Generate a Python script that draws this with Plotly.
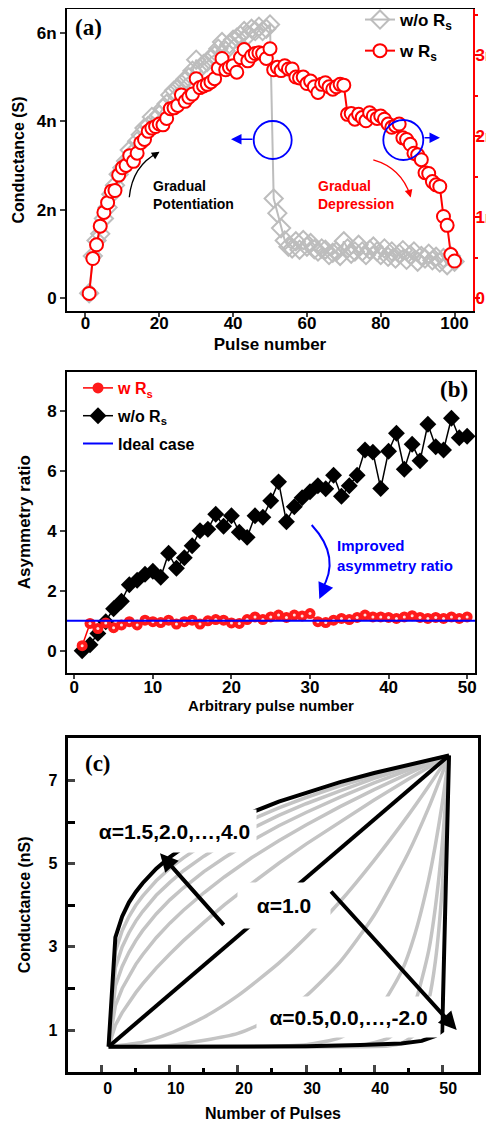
import plotly.graph_objects as go

# page body adds an 8px margin: the figure is drawn 8px in from the top-left
OFF = 8
FW, FH = 494 - OFF, 1130 - OFF
FONT = "Liberation Sans, Arial, sans-serif"
SERIF = "Liberation Serif, Times New Roman, serif"


def PX(x):
    return (x - OFF) / FW


def PYu(y):
    return 1 - (y - OFF) / FH


def PY(y):
    return min(1.0, PYu(y))


# ---------------- panel (a) data (conductance in nS) ----------------
pulse_a = list(range(1, 101))
g_wo_rs_nS = [0.10, 0.95, 1.30, 1.45, 1.80, 2.05, 2.35, 2.55, 2.80, 2.95,
              3.10, 3.35, 3.30, 3.55, 3.70, 3.85, 3.90, 4.10, 4.05, 4.15,
              4.30, 4.40, 4.60, 4.70, 4.75, 4.85, 4.95, 5.00, 5.15, 5.40,
              5.20, 5.30, 5.35, 5.45, 5.50, 5.65, 5.80, 5.60, 5.75, 5.85,
              5.90, 5.95, 6.05, 5.95, 6.10, 6.05, 6.15, 6.05, 6.10, 6.20,
              2.25, 1.92, 1.58, 1.30, 1.16, 1.12, 1.28, 1.09, 1.31, 1.16,
              1.24, 1.10, 1.05, 1.12, 1.09, 0.97, 1.02, 1.05, 0.95, 1.28,
              1.12, 1.00, 1.05, 1.20, 1.05, 0.97, 1.09, 1.16, 1.05, 0.97,
              1.12, 0.93, 1.05, 0.89, 1.00, 1.08, 0.86, 0.97, 1.05, 0.82,
              0.95, 0.89, 1.00, 0.85, 0.93, 0.80, 0.90, 0.74, 0.95, 0.82]
g_w_rs_nS = [0.06, 0.49, 0.66, 0.89, 1.06, 1.18, 1.32, 1.33, 1.52, 1.61,
             1.64, 1.76, 1.69, 1.79, 1.92, 1.96, 2.06, 2.10, 2.12, 2.15,
             2.14, 2.22, 2.34, 2.35, 2.38, 2.51, 2.43, 2.48, 2.52, 2.71,
             2.60, 2.62, 2.64, 2.67, 2.71, 2.84, 2.96, 2.82, 2.85, 2.87,
             2.79, 2.97, 3.07, 2.93, 2.99, 3.02, 3.03, 3.02, 2.96, 3.08,
             2.82, 2.85, 2.81, 2.87, 2.83, 2.83, 2.73, 2.72, 2.73, 2.65,
             2.68, 2.61, 2.54, 2.64, 2.66, 2.61, 2.58, 2.61, 2.64, 2.63,
             2.27, 2.28, 2.21, 2.27, 2.23, 2.19, 2.29, 2.25, 2.22, 2.25,
             2.21, 2.15, 2.11, 2.13, 2.15, 1.98, 1.96, 1.90, 1.79, 1.77,
             1.71, 1.55, 1.54, 1.44, 1.40, 1.38, 1.01, 0.90, 0.54, 0.46]
a_xticks = [0, 20, 40, 60, 80, 100]
a_left_ticks_nS = [0, 2, 4, 6]
a_right_ticks_nS = [0, 1, 2, 3]

# ---------------- panel (b) data ----------------
pulse_b = list(range(1, 51))
ratio_wo_rs = [0.00, 0.20, 0.58, 0.97, 1.40, 1.65, 2.20, 2.35, 2.55, 2.65,
               2.45, 3.25, 2.75, 3.10, 3.50, 4.00, 4.05, 4.55, 4.15, 4.50,
               3.95, 3.78, 4.50, 4.45, 5.00, 5.63, 4.30, 4.80, 5.10, 5.30,
               5.50, 5.40, 5.85, 5.15, 5.50, 5.85, 6.69, 6.62, 5.41, 6.65,
               7.25, 6.05, 6.88, 6.33, 7.55, 6.80, 6.69, 7.75, 7.10, 7.15]
ratio_w_rs = [0.17, 0.91, 0.74, 0.93, 0.77, 0.86, 0.97, 0.86, 1.02, 0.97,
              0.94, 1.02, 0.89, 0.97, 1.02, 0.89, 1.00, 1.04, 1.02, 0.93,
              0.91, 1.04, 1.13, 1.04, 1.13, 1.19, 1.11, 1.19, 1.16, 1.24,
              0.97, 0.94, 1.02, 1.08, 1.04, 1.11, 1.19, 1.13, 1.13, 1.11,
              1.08, 1.13, 1.17, 1.11, 1.08, 1.11, 1.08, 1.13, 1.08, 1.13]
ideal_ratio = 1.0
b_xrange = [-0.93, 51]
b_xticks = [0, 10, 20, 30, 40, 50]
b_yticks = [0, 2, 4, 6, 8]

# ---------------- panel (c) data (conductance in nS) ----------------
upper_x = [1, 2, 3, 4, 5, 6, 8, 10, 12, 15, 18, 22, 26, 30, 35, 40, 45, 48, 50, 51]
alpha_upper = {
    "1.5": [0.6, 1.12, 1.42, 1.67, 1.90, 2.11, 2.49, 2.83, 3.15, 3.59, 4.01, 4.52, 5.01, 5.47, 6.01, 6.53, 7.03, 7.32, 7.51, 7.6],
    "2.0": [0.6, 1.59, 2.00, 2.31, 2.58, 2.81, 3.22, 3.57, 3.88, 4.30, 4.68, 5.14, 5.55, 5.93, 6.37, 6.78, 7.17, 7.39, 7.53, 7.6],
    "2.5": [0.6, 2.06, 2.53, 2.87, 3.15, 3.39, 3.79, 4.13, 4.42, 4.81, 5.14, 5.55, 5.91, 6.23, 6.60, 6.94, 7.25, 7.43, 7.54, 7.6],
    "3.0": [0.6, 2.50, 3.00, 3.34, 3.62, 3.85, 4.24, 4.55, 4.83, 5.18, 5.49, 5.84, 6.16, 6.44, 6.75, 7.05, 7.31, 7.46, 7.55, 7.6],
    "3.5": [0.6, 2.89, 3.39, 3.73, 4.00, 4.22, 4.59, 4.89, 5.14, 5.47, 5.75, 6.06, 6.34, 6.59, 6.87, 7.12, 7.35, 7.48, 7.56, 7.6],
}
alpha_4_0 = [0.6, 3.23, 3.73, 4.07, 4.32, 4.53, 4.88, 5.16, 5.39, 5.69, 5.94, 6.23, 6.49, 6.71, 6.96, 7.18, 7.38, 7.49, 7.57, 7.6]
alpha_1_0_x = [1, 51]
alpha_1_0 = [0.6, 7.6]
alpha_lower = {
    "0.5": ([1, 6, 10, 15, 20, 26, 30, 35, 40, 45, 48, 50, 51],
            [0.6, 0.71, 0.92, 1.31, 1.83, 2.61, 3.23, 4.09, 5.08, 6.16, 6.86, 7.35, 7.6]),
    "0.0": ([1, 10, 20, 26, 30, 35, 40, 45, 48, 50, 51],
            [0.6, 0.63, 0.92, 1.36, 1.82, 2.64, 3.76, 5.25, 6.34, 7.17, 7.6]),
    "-0.5": ([1, 20, 30, 35, 40, 44, 46, 48, 49, 50, 51],
             [0.6, 0.6, 0.65, 0.82, 1.35, 2.40, 3.31, 4.61, 5.45, 6.44, 7.6]),
    "-1.0": ([1, 30, 38, 42, 44, 46, 48, 49, 50, 51],
             [0.6, 0.6, 0.63, 0.80, 1.06, 1.65, 2.90, 3.96, 5.46, 7.6]),
    "-1.5": ([1, 35, 42, 44, 46, 47, 48, 49, 50, 51],
             [0.6, 0.6, 0.62, 0.68, 0.90, 1.17, 1.69, 2.66, 4.42, 7.6]),
}
alpha_m2_x = [1, 20, 30, 38, 44, 47, 48, 49, 50, 51]
alpha_m2 = [0.6, 0.6, 0.61, 0.64, 0.68, 0.74, 0.79, 0.86, 0.98, 7.6]
c_xticks = [0, 10, 20, 30, 40, 50]
c_xminor = [5, 15, 25, 35, 45]
c_yticks = [1, 3, 5, 7]
c_yminor = [2, 4, 6]

fig = go.Figure()

# ---------- (a) traces ----------
fig.add_trace(go.Scatter(
    x=pulse_a, y=[v * 1e-9 for v in g_wo_rs_nS], xaxis="x", yaxis="y",
    mode="lines+markers", name="<b>w/o R<sub>s</sub></b>", legend="legend", legendgroup="a1",
    line=dict(color="#bdbdbd", width=2),
    marker=dict(symbol="diamond-open", size=14, color="#bdbdbd", line=dict(width=2))))
fig.add_trace(go.Scatter(
    x=pulse_a, y=[v * 1e-9 for v in g_w_rs_nS], xaxis="x", yaxis="y2",
    mode="lines+markers", name="<b>w R<sub>s</sub></b>", legend="legend", legendgroup="a2",
    line=dict(color="#ff0000", width=2),
    marker=dict(symbol="circle", size=13, color="white", line=dict(color="#ff0000", width=2))))

# ---------- (b) traces ----------
fig.add_trace(go.Scatter(
    x=pulse_b, y=ratio_wo_rs, xaxis="x2", yaxis="y3", mode="lines+markers",
    name="<b>w/o R<sub>s</sub></b>", legend="legend2", legendrank=2, legendgroup="b2",
    line=dict(color="black", width=1.5),
    marker=dict(symbol="diamond", size=13, color="black")))
fig.add_trace(go.Scatter(
    x=pulse_b, y=ratio_w_rs, xaxis="x2", yaxis="y3", mode="lines+markers",
    name='<b><span style="color:#ff0000">w R<sub>s</sub></span></b>', legend="legend2", legendrank=1,
    legendgroup="b1",
    line=dict(color="#ff0000", width=1.5),
    marker=dict(symbol="circle", size=11, color="#ff1a1a", line=dict(width=0))))
fig.add_trace(go.Scatter(
    x=pulse_b, y=ratio_w_rs, xaxis="x2", yaxis="y3", mode="markers",
    showlegend=False, hoverinfo="skip",
    marker=dict(symbol="circle", size=3, color="#ffe0e0", line=dict(width=0))))
fig.add_trace(go.Scatter(
    x=b_xrange, y=[ideal_ratio, ideal_ratio], xaxis="x2", yaxis="y3", mode="lines",
    name="<b>Ideal case</b>", legend="legend2", legendrank=3, legendgroup="b3",
    line=dict(color="#0000ff", width=2)))

# ---------- (c) traces ----------
GRAY_C = "#c4c4c4"
for key, ys in alpha_upper.items():
    fig.add_trace(go.Scatter(x=upper_x, y=ys, xaxis="x3", yaxis="y4", mode="lines",
                             showlegend=False, line=dict(color=GRAY_C, width=3.5)))
for key, (xs, ys) in alpha_lower.items():
    fig.add_trace(go.Scatter(x=xs, y=ys, xaxis="x3", yaxis="y4", mode="lines",
                             showlegend=False, line=dict(color=GRAY_C, width=3.5, shape="spline", smoothing=0.6)))
for xs, ys in [(upper_x, alpha_4_0), (alpha_1_0_x, alpha_1_0), (alpha_m2_x, alpha_m2)]:
    fig.add_trace(go.Scatter(x=xs, y=ys, xaxis="x3", yaxis="y4", mode="lines",
                             showlegend=False, line=dict(color="black", width=4)))

tick_font = dict(family=FONT, size=17, color="black", weight="bold")
title_font = dict(family=FONT, size=17, color="black", weight="bold")

common = dict(showgrid=False, zeroline=False, showline=True, linecolor="black", automargin=False)

fig.update_layout(
    width=FW, height=FH, margin=dict(l=0, r=0, t=0, b=0, autoexpand=False),
    paper_bgcolor="white", plot_bgcolor="rgba(0,0,0,0)",
    font=dict(family=FONT, color="black"),
    # (a)
    xaxis=dict(domain=[PX(67), PX(473)], anchor="y", range=[-5, 105], tickvals=a_xticks,
               ticks="outside", ticklen=4, tickwidth=1.5, linewidth=2, mirror=True,
               ticklabelstandoff=-8,
               tickfont=tick_font, title=dict(text="Pulse number", font=title_font, standoff=6), **common),
    yaxis=dict(domain=[PY(311), PY(9)], anchor="x", range=[-0.3e-9, 6.55e-9],
               tickvals=[v * 1e-9 for v in a_left_ticks_nS], tickformat="~s",
               ticks="outside", ticklen=5, tickwidth=1.5, linewidth=2,
               tickfont=tick_font, title=dict(text="Conductance (S)", font=dict(family=FONT, size=16, color="black", weight="bold"), standoff=8), **common),
    yaxis2=dict(overlaying="y", side="right", anchor="x", range=[-0.157e-9, 3.57e-9],
                tickvals=[v * 1e-9 for v in a_right_ticks_nS], tickformat="~s",
                ticks="outside", ticklen=5, tickwidth=1.5, tickcolor="#ff0000",
                ticklabelstandoff=-8,
                minor=dict(dtick=0.5e-9, ticks="outside", ticklen=3, tickcolor="#ff0000", tickwidth=1.5),
                showgrid=False, zeroline=False, showline=True, linecolor="#ff0000", linewidth=2, automargin=False,
                tickfont=dict(family=FONT, size=17, color="#ff0000", weight="bold")),
    # (b)
    xaxis2=dict(domain=[PX(67), PX(475)], anchor="y3", range=b_xrange, tickvals=b_xticks,
                ticks="outside", ticklen=4, tickwidth=1.5, linewidth=2, mirror=True,
                ticklabelstandoff=-6,
                tickfont=tick_font, title=dict(text="Arbitrary pulse number", font=dict(family=FONT, size=15, color="black", weight="bold"), standoff=0), **common),
    yaxis3=dict(domain=[PY(672.7), PY(371.7)], anchor="x2", range=[-0.73, 9.3], tickvals=b_yticks,
                ticks="outside", ticklen=5, tickwidth=1.5, linewidth=2, mirror=True,
                tickfont=tick_font, title=dict(text="Asymmetry ratio", font=title_font, standoff=12), **common),
    # (c)
    xaxis3=dict(domain=[PX(67.7), PX(478.3)], anchor="y4", range=[-5, 55.3], tickvals=c_xticks,
                ticks="inside", ticklen=7, tickwidth=2.5, linewidth=3, mirror=True,
                ticklabelshift=6,
                minor=dict(tickvals=c_xminor, ticks="inside", ticklen=4, tickwidth=2.5, tickcolor="black"),
                tickfont=dict(family=FONT, size=16, color="black", weight="bold"),
                title=dict(text="Number of Pulses", font=dict(family=FONT, size=16, color="black", weight="bold"), standoff=12), **common),
    yaxis4=dict(domain=[PY(1071.7), PY(738)], anchor="x3", range=[0, 8.02], tickvals=c_yticks,
                ticks="inside", ticklen=7, tickwidth=2.5, linewidth=3, mirror=True,
                ticklabelstandoff=4,
                minor=dict(tickvals=c_yminor, ticks="inside", ticklen=7, tickwidth=2.5, tickcolor="black"),
                tickfont=dict(family=FONT, size=16, color="black", weight="bold"),
                title=dict(text="Conductance (nS)", font=dict(family=FONT, size=16, color="black", weight="bold"), standoff=14), **common),
    legend=dict(x=PX(360), y=PYu(2), xanchor="left", yanchor="top", bgcolor="rgba(0,0,0,0)",
                font=dict(family=FONT, size=17, color="black"), tracegroupgap=6, itemwidth=30),
    legend2=dict(x=PX(78), y=PYu(371), xanchor="left", yanchor="top", bgcolor="rgba(0,0,0,0)",
                 font=dict(family=FONT, size=16, color="black"), tracegroupgap=4, itemwidth=30),
)

shapes = []
annotations = []

# ---- (a) decorations ----
annotations.append(dict(xref="paper", yref="paper", x=PX(88), y=PY(27), xanchor="center", yanchor="middle",
                        text="<b>(a)</b>", showarrow=False, font=dict(family=SERIF, size=23, color="black")))
for cx, cy, r in [(272.7, 140, 19), (403.3, 140, 20)]:
    shapes.append(dict(type="circle", xref="paper", yref="paper",
                       x0=PX(cx - r), x1=PX(cx + r), y0=PY(cy + r), y1=PY(cy - r),
                       line=dict(color="#0000ff", width=1.8)))
annotations.append(dict(xref="paper", yref="paper", x=PX(231), y=PY(139.3), ax=23, ay=0,
                        text="", showarrow=True, arrowhead=2, arrowsize=1.4, arrowwidth=1.5, arrowcolor="#0000ff"))
annotations.append(dict(xref="paper", yref="paper", x=PX(440), y=PY(137.7), ax=-17, ay=0,
                        text="", showarrow=True, arrowhead=2, arrowsize=1.4, arrowwidth=1.5, arrowcolor="#0000ff"))


def qpath(p0, c, p1):
    return "M {:.5f},{:.5f} Q {:.5f},{:.5f} {:.5f},{:.5f}".format(
        PX(p0[0]), PY(p0[1]), PX(c[0]), PY(c[1]), PX(p1[0]), PY(p1[1]))


shapes.append(dict(type="path", xref="paper", yref="paper",
                   path=qpath((129.3, 197.3), (132.3, 165.5), (158.5, 152.3)),
                   line=dict(color="black", width=1.3)))
annotations.append(dict(xref="paper", yref="paper", x=PX(159.5), y=PY(151.7), ax=-6, ay=4,
                        text="", showarrow=True, arrowhead=2, arrowsize=1.3, arrowwidth=1.2, arrowcolor="black"))
shapes.append(dict(type="path", xref="paper", yref="paper",
                   path=qpath((373.3, 160), (401.4, 168), (410.4, 196)),
                   line=dict(color="#ff0000", width=1.3)))
annotations.append(dict(xref="paper", yref="paper", x=PX(410.7), y=PY(197.5), ax=-2, ay=-7,
                        text="", showarrow=True, arrowhead=2, arrowsize=1.3, arrowwidth=1.2, arrowcolor="#ff0000"))
annotations.append(dict(xref="paper", yref="paper", x=PX(151), y=PY(195), xanchor="left", yanchor="middle",
                        align="left", text="<b>Gradual<br>Potentiation</b>", showarrow=False,
                        font=dict(family=FONT, size=14, color="black")))
annotations.append(dict(xref="paper", yref="paper", x=PX(316), y=PY(195), xanchor="left", yanchor="middle",
                        align="left", text="<b>Gradual<br>Depression</b>", showarrow=False,
                        font=dict(family=FONT, size=14, color="#ff0000")))

# ---- (b) decorations ----
annotations.append(dict(xref="paper", yref="paper", x=PX(453.5), y=PY(389), xanchor="center", yanchor="middle",
                        text="<b>(b)</b>", showarrow=False, font=dict(family=SERIF, size=23, color="black")))
annotations.append(dict(xref="paper", yref="paper", x=PX(335), y=PY(555), xanchor="left", yanchor="middle",
                        align="left", text="<b>Improved<br>asymmetry ratio</b>", showarrow=False,
                        font=dict(family=FONT, size=15, color="#0000ff")))
shapes.append(dict(type="path", xref="paper", yref="paper",
                   path=qpath((311.7, 525), (341.7, 557.5), (321.5, 590)),
                   line=dict(color="#0000ff", width=2)))
annotations.append(dict(xref="paper", yref="paper", x=PX(319.3), y=PY(599), ax=4, ay=-9,
                        text="", showarrow=True, arrowhead=2, arrowsize=1.6, arrowwidth=2, arrowcolor="#0000ff"))

# ---- (c) decorations ----
annotations.append(dict(xref="paper", yref="paper", x=PX(97.5), y=PY(763.5), xanchor="center", yanchor="middle",
                        text="<b>(c)</b>", showarrow=False, font=dict(family=SERIF, size=23, color="black")))
box_font = dict(family=FONT, size=21, color="black")
for txt, cx, cy, bw, bh in [("<b>α=1.5,2.0,…,4.0</b>", 174.5, 831, 163, 42),
                            ("<b>α=1.0</b>", 284, 905, 92, 45),
                            ("<b>α=0.5,0.0,…,-2.0</b>", 348.5, 1017, 183, 40)]:
    annotations.append(dict(xref="paper", yref="paper", x=PX(cx), y=PY(cy), xanchor="center", yanchor="middle",
                            text=txt, showarrow=False, bgcolor="white", borderpad=0,
                            width=bw, height=bh, font=box_font))
annotations.append(dict(xref="paper", yref="paper", x=PX(160), y=PY(853.3), ax=65, ay=73,
                        text="", showarrow=True, arrowhead=2, arrowsize=0.9, arrowwidth=4, arrowcolor="black"))
annotations.append(dict(xref="paper", yref="paper", x=PX(456.7), y=PY(1030), ax=-127, ay=-140,
                        text="", showarrow=True, arrowhead=2, arrowsize=0.9, arrowwidth=4, arrowcolor="black"))

fig.update_layout(shapes=shapes, annotations=annotations)
fig.write_html("out.html")
